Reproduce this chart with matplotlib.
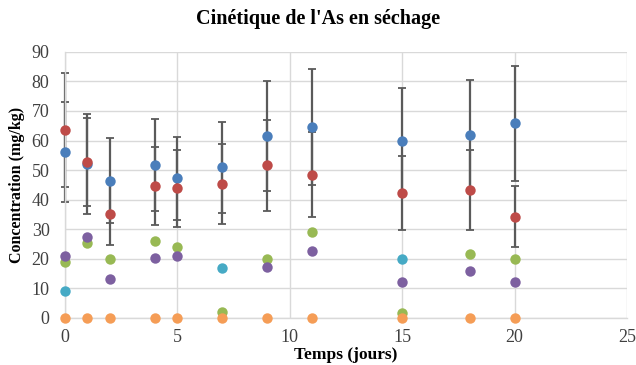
import matplotlib
matplotlib.use("Agg")
import matplotlib.pyplot as plt

# Sampling days
jours = [0, 1, 2, 4, 5, 7, 9, 11, 15, 18, 20]

# Series with error bars
bleu = [56.2, 52.0, 46.4, 51.7, 47.2, 50.9, 61.5, 64.6, 59.9, 61.7, 65.8]
bleu_err = [16.9, 16.9, 14.3, 15.5, 14.1, 15.4, 18.7, 19.5, 17.7, 18.7, 19.4]
rouge = [63.5, 52.8, 35.1, 44.6, 43.8, 45.3, 51.7, 48.5, 42.1, 43.2, 34.2]
rouge_err = [19.2, 14.9, 10.4, 13.3, 13.0, 13.6, 15.4, 14.5, 12.5, 13.5, 10.3]

# Series without error bars
vert = [19.0, 25.2, 19.9, 26.1, 23.9, 2.1, 19.8, 29.0, 1.8, 21.6, 19.8]
violet_jours = [0, 1, 2, 4, 5, 9, 11, 15, 18, 20]
violet = [21.0, 27.3, 13.2, 20.2, 21.0, 17.1, 22.7, 12.3, 16.0, 12.1]
cyan_jours = [0, 7, 15]
cyan = [9.2, 17.0, 19.9]
orange = [0, 0, 0, 0, 0, 0, 0, 0, 0, 0, 0]

x_ticks = [0, 5, 10, 15, 20, 25]
y_ticks = [0, 10, 20, 30, 40, 50, 60, 70, 80, 90]

serif = ["Liberation Serif", "DejaVu Serif"]

fig = plt.figure(figsize=(6.36, 3.65), dpi=100)
ax = fig.add_axes([0.102, 0.129, 0.884, 0.729])

err_kw = dict(fmt="none", ecolor="#5a5a5a", elinewidth=1.6, capsize=3.2,
              capthick=1.3, zorder=2)
for y, e in [(bleu, bleu_err), (rouge, rouge_err)]:
    eb = ax.errorbar(jours, y, yerr=e, **err_kw)
    for art in eb.lines[1] + eb.lines[2]:
        art.set_clip_on(False)

mk = dict(linestyle="none", marker="o", markersize=7.5, markeredgewidth=0,
          zorder=3, clip_on=False)
ax.plot(jours, bleu, color="#4a7ebb", **mk)
ax.plot(jours, rouge, color="#be4b48", **mk)
ax.plot(jours, vert, color="#98b954", **mk)
ax.plot(violet_jours, violet, color="#7d60a0", **mk)
ax.plot(cyan_jours, cyan, color="#46aac5", **mk)
ax.plot(jours, orange, color="#f59d56", **mk)

ax.set_xlim(0, 25)
ax.set_ylim(0, 90)
ax.set_xticks(x_ticks)
ax.set_yticks(y_ticks)
ax.grid(True, color="#d9d9d9", linewidth=1.0, zorder=0)
ax.set_axisbelow(True)
for side in ["top", "right"]:
    ax.spines[side].set_visible(False)
for side in ["left", "bottom"]:
    ax.spines[side].set_color("#d9d9d9")
    ax.spines[side].set_linewidth(1.0)
ax.tick_params(axis="x", length=0, pad=8, labelsize=13, colors="#404040")
ax.tick_params(axis="y", length=0, pad=11, labelsize=13, colors="#404040")
for lab in ax.get_xticklabels() + ax.get_yticklabels():
    lab.set_family(serif)

ax.set_xlabel("Temps (jours)", fontsize=12.5, fontweight="bold", family=serif,
              labelpad=1)
ax.set_ylabel("Concentration (mg/kg)", fontsize=11.5, fontweight="bold", family=serif,
              labelpad=5)
fig.text(0.5, 0.948, "Cinétique de l'As en séchage", ha="center", va="center",
         fontsize=14.5, fontweight="bold", family=serif)

fig.savefig("out.png", dpi=100)
